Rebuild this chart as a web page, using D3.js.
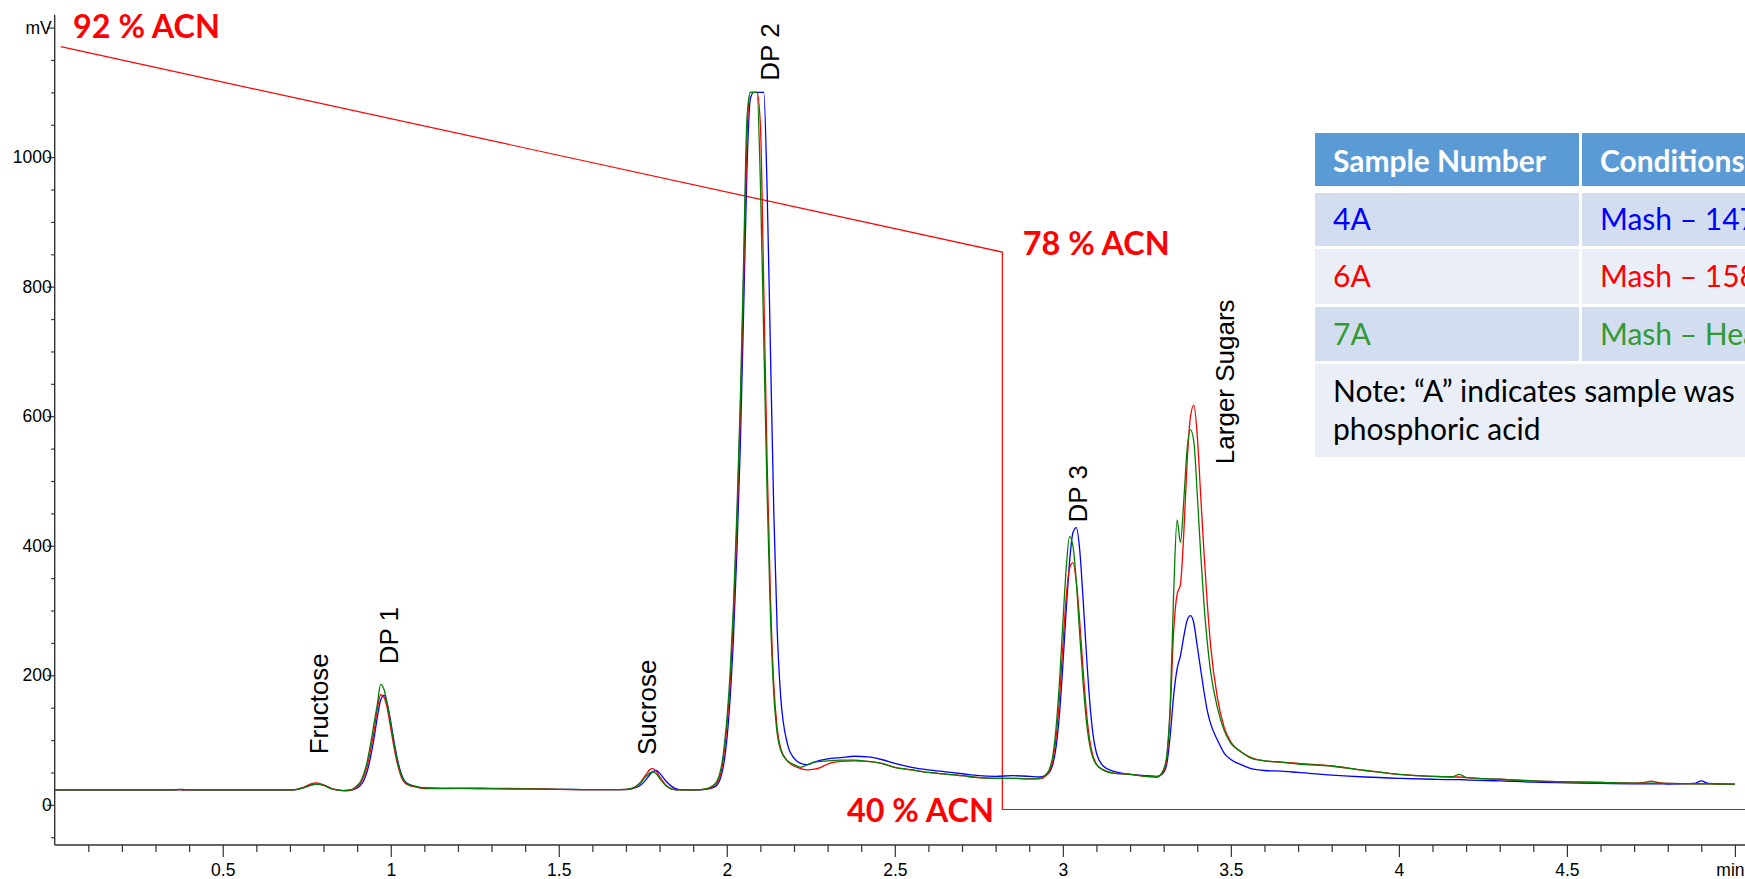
<!DOCTYPE html>
<html><head><meta charset="utf-8">
<script src="https://cdn.jsdelivr.net/npm/d3@7"></script>
<style>body{margin:0;background:#fff;overflow:hidden} svg{display:block}</style>
</head><body><svg id="c" width="1745" height="879"></svg>
<script>
// ---------- DATA ----------
const time = [
 0.00,0.10,0.20,0.30,0.35,0.37,0.39,0.42,0.50,0.60,0.70,
 0.72,0.74,0.76,0.78,0.80,0.82,0.84,0.86,0.88,
 0.90,0.91,0.92,0.93,0.94,0.95,0.96,0.97,0.98,0.99,1.00,1.01,1.02,1.03,1.04,1.05,1.07,1.10,
 1.15,1.20,1.30,1.40,1.50,1.60,1.66,
 1.70,1.72,1.74,1.76,1.77,1.78,1.79,1.80,1.82,1.84,1.86,1.90,1.93,
 1.95,1.97,1.99,2.01,2.02,2.03,2.04,2.05,2.06,2.07,2.08,2.09,2.10,2.11,2.12,2.13,2.14,2.15,2.16,2.18,2.20,2.22,2.24,2.26,2.28,2.30,
 2.34,2.38,2.42,2.46,2.50,2.55,2.60,2.65,2.70,2.75,2.80,2.85,2.90,2.93,
 2.95,2.96,2.97,2.98,2.99,3.00,3.01,3.02,3.03,3.04,3.05,3.06,3.07,3.08,3.09,3.10,3.12,3.15,
 3.20,3.25,3.28,3.30,3.31,3.32,3.33,3.34,3.35,3.36,3.37,3.38,3.39,3.40,3.41,3.42,3.43,3.44,3.46,3.48,3.50,3.53,3.56,3.60,3.65,3.70,
 3.80,3.90,4.00,4.10,4.16,4.18,4.20,4.30,4.40,4.50,4.60,4.70,4.73,4.75,4.77,4.80,4.88,4.90,4.92,5.00
];
const sample4A = [
 23,23,23,23,23,23.5,23,23,23,23,23,
 23.5,26,30,32,30.5,26,23,22,22.5,
 26,30,38,52,74,102,135,162,169,155,128,97,70,50,38,33,29,26,
 25.5,25.5,25,24.5,24,23.5,23.5,
 23.5,25,29,39,46,51,53,49,36,27,23.5,23,23.5,
 25,30,60,165,260,390,550,760,980,1090,1100,1100,1100,1100,950,700,450,270,170,95,72,64,62,66,69,71,
 73,75,74,70,64,58,54,51,48,45,44,45,44,43,
 46,50,62,90,140,215,300,375,420,428,395,320,235,160,108,80,60,52,
 47,45,44,50,65,110,170,210,230,260,285,292,280,245,210,175,145,125,100,80,70,62,56,53,52,50,
 46,43,41,39.5,39,39,38.5,37,35,34,33,32.5,32.5,32.5,32.5,32,33,37,33,31.5
];
const sample6A = [
 23,23,23,23,23,23.5,23,23,23,23,23,
 24,27,32,34,31,26,23,22,22.5,
 28,33,44,60,85,113,148,170,166,148,118,88,63,45,35,31,28,25,
 25,25.5,25.5,25,24,23.5,23.5,
 24,26,33,47,54,56,52,44,30,24,23,23,24,
 26,33,72,190,292,430,600,810,1030,1100,1100,1100,1050,800,530,320,185,118,88,68,60,56,54,55,58,63,
 67,68,67,64,58,54,50,47.5,45,42,41,41,40,40,
 45,52,68,105,165,245,320,365,374,345,285,210,145,100,75,63,54,49,
 47,44,43,52,75,150,270,325,340,420,530,600,617,570,480,390,310,245,165,120,97,82,73,68,66,64,
 60,53,47,44,43,43,42,39.5,37,35.5,34.5,33.5,34.5,36.5,34.5,33,32.5,32.5,32.5,32
];
const sample7A = [
 23,23,23,23,23,24,23.5,23,23,23,23,
 24,26.5,30,32,30,25.5,23,22,23,
 30,36,48,67,94,125,155,186,178,155,125,94,67,48,37,32,29,26,
 25.5,25.5,25,24.5,24,23.5,23.5,
 24,26,32,44,49,51,48,41,29,24,23,23,24,
 27,36,80,205,310,450,620,840,1060,1100,1100,1100,960,720,480,290,170,110,85,68,62,58,62,66,67,68,
 69,69,67,64,58,54,50,47.5,45,42,41,41,40,41,
 47,55,75,120,190,280,365,414,400,345,265,190,130,92,72,62,54,49,
 47,44,43,55,80,160,330,440,405,470,550,579,560,480,390,310,250,205,150,115,95,82,72,68,66,63,
 60,53,47,44,43.5,47,42.5,39.5,37,35.5,34.5,33.5,33.5,33.5,33.5,33,32.5,32.5,32.5,32
];
// solvent gradient (% ACN)
const gradTime = [0.018, 2.82, 2.82, 5.03];
const gradACN  = [92, 78, 40, 40];
const acnLabels = ['92 % ACN', '78 % ACN', '40 % ACN'];
// peak annotations: name, time (min), mV at text start
const peakNames = ['Fructose', 'DP 1', 'Sucrose', 'DP 2', 'DP 3', 'Larger Sugars'];
const peakTimes = [0.787, 0.995, 1.762, 2.128, 3.046, 3.483];
const peakLevels = [78, 217, 77, 1118, 436, 526];
// axis ticks
const xMajor = [0.5, 1, 1.5, 2, 2.5, 3, 3.5, 4, 4.5, 5];
const xMajorLabels = ['0.5', '1', '1.5', '2', '2.5', '3', '3.5', '4', '4.5', 'min'];
const yMajor = [0, 200, 400, 600, 800, 1000, 1200];
const yMajorLabels = ['0', '200', '400', '600', '800', '1000', 'mV'];
// table
const tableHeader = ['Sample Number', 'Conditions'];
const sampleIds = ['4A', '6A', '7A'];
const conditions = ['Mash – 147', 'Mash – 158', 'Mash – Hea'];
const noteLines = ['Note: “A” indicates sample was', 'phosphoric acid'];

// ---------- DRAW ----------
const svg = d3.select('#c');
const W = 1745, H = 879;
const x = d3.scaleLinear().domain([0, 5.03]).range([54.7, 1745]);
const y = d3.scaleLinear().domain([-62, 1200]).range([845, 27.6]);
const yACN = d3.scaleLinear().domain([40, 92]).range([809.5, 46.7]);
const axisColor = '#333';
const axisFont = 'Liberation Sans, Arial, sans-serif';

// gradient line
const gradPts = gradTime.map((t, i) => ({t, v: gradACN[i]}));
svg.append('path').datum(gradPts)
  .attr('d', d3.line().x(d => x(d.t)).y(d => yACN(d.v)))
  .attr('fill', 'none').attr('stroke', '#ff0000').attr('stroke-width', 1.2);

// x axis
const gx = svg.append('g').attr('transform', `translate(0,${y(-62)})`);
gx.call(d3.axisBottom(x).tickValues(d3.range(1, 51).map(i => i / 10).filter(v => Math.abs(v * 2 - Math.round(v * 2)) > 1e-6))
  .tickSize(7).tickSizeOuter(0).tickFormat(''));
gx.call(g => g.select('.domain').remove());
const gx2 = svg.append('g').attr('transform', `translate(0,${y(-62)})`);
gx2.call(d3.axisBottom(x).tickValues(xMajor).tickSize(12).tickSizeOuter(0)
  .tickFormat((d, i) => xMajorLabels[i]).tickPadding(6));
gx2.select('.domain').remove();
gx2.selectAll('text').attr('font-family', axisFont).attr('font-size', 17.5).attr('fill', '#000').attr('dy', '0.75em');
gx2.selectAll('.tick text').filter((d, i) => xMajorLabels[i] === 'min').attr('x', -5);
svg.selectAll('.tick line').attr('stroke', axisColor).attr('stroke-width', 1.2);
svg.append('line').attr('x1', x(0)).attr('x2', W).attr('y1', y(-62)).attr('y2', y(-62))
  .attr('stroke', axisColor).attr('stroke-width', 1.4);

// y axis
const gy = svg.append('g').attr('transform', `translate(${x(0)},0)`);
gy.call(d3.axisLeft(y).tickValues(d3.range(-50, 1201, 50).filter(v => v % 200 !== 0))
  .tickSize(3.5).tickSizeOuter(0).tickFormat(''));
gy.select('.domain').remove();
const gy2 = svg.append('g').attr('transform', `translate(${x(0)},0)`);
gy2.call(d3.axisLeft(y).tickValues(yMajor).tickSize(7.5).tickSizeOuter(0)
  .tickFormat((d, i) => yMajorLabels[i]).tickPadding(-4.5));
gy2.select('.domain').remove();
gy2.selectAll('text').attr('font-family', axisFont).attr('font-size', 17.5).attr('fill', '#000');
svg.selectAll('.tick line').attr('stroke', axisColor).attr('stroke-width', 1.2);
svg.append('line').attr('x1', x(0)).attr('x2', x(0)).attr('y1', y(1220)).attr('y2', y(-62))
  .attr('stroke', axisColor).attr('stroke-width', 1.4);

// chromatogram traces
const line = d3.line().x(d => x(d.t)).y(d => y(d.v)).curve(d3.curveMonotoneX);
const series = [
  {vals: sample4A, color: '#0000ff'},
  {vals: sample6A, color: '#ff0000'},
  {vals: sample7A, color: '#008000'}
];
series.forEach(s => {
  svg.append('path').datum(time.map((t, i) => ({t, v: s.vals[i]})))
    .attr('d', line).attr('fill', 'none').attr('stroke', s.color)
    .attr('stroke-width', 1.3).attr('stroke-linejoin', 'round');
});

// peak labels
peakNames.forEach((name, i) => {
  svg.append('text')
    .attr('transform', `translate(${x(peakTimes[i])},${y(peakLevels[i])}) rotate(-90)`)
    .attr('dy', '0.35em')
    .attr('font-family', axisFont).attr('font-size', 26).attr('fill', '#000')
    .text(name);
});

// fit helper
function fitWidth(node, target) {
  const w = node.getComputedTextLength();
  const fs = parseFloat(node.getAttribute('font-size'));
  node.setAttribute('font-size', fs * target / w);
  return fs * target / w;
}

// ACN labels
const acnPos = [
  {x: x(gradTime[0]) + 12.3, y: yACN(92) - 8.5, anchor: 'start'},
  {x: x(gradTime[1]) + 20.5, y: yACN(78) + 2.5, anchor: 'start'},
  {x: x(gradTime[1]) - 8.5, y: yACN(40) + 12.5, anchor: 'end'}
];
acnLabels.forEach((txt, i) => {
  const t = svg.append('text').attr('x', acnPos[i].x).attr('y', acnPos[i].y)
    .attr('text-anchor', acnPos[i].anchor)
    .attr('font-family', 'Lato, sans-serif').attr('font-weight', 700)
    .attr('font-size', 36).attr('fill', '#ff0000').text(txt);
  fitWidth(t.node(), 147);
});

// table
const tFont = 'Lato, sans-serif';
const tb = svg.append('g');
const c1 = 1315, c1r = 1579, c2 = 1582, cr = 1760;
const hdrTop = 133, hdrBot = 186;
const rowTops = [193, 249, 307], rowBots = [246, 304, 361];
const noteTop = 364, noteBot = 457;
tb.append('rect').attr('x', c1).attr('y', hdrTop).attr('width', c1r - c1).attr('height', hdrBot - hdrTop).attr('fill', '#5b9bd5');
tb.append('rect').attr('x', c2).attr('y', hdrTop).attr('width', cr - c2).attr('height', hdrBot - hdrTop).attr('fill', '#5b9bd5');
const rowFill = ['#d2deef', '#eaeff7', '#d2deef'];
const rowColor = ['#0000ff', '#ff0000', '#339933'];
sampleIds.forEach((id, i) => {
  tb.append('rect').attr('x', c1).attr('y', rowTops[i]).attr('width', c1r - c1).attr('height', rowBots[i] - rowTops[i]).attr('fill', rowFill[i]);
  tb.append('rect').attr('x', c2).attr('y', rowTops[i]).attr('width', cr - c2).attr('height', rowBots[i] - rowTops[i]).attr('fill', rowFill[i]);
});
tb.append('rect').attr('x', c1).attr('y', noteTop).attr('width', cr - c1).attr('height', noteBot - noteTop).attr('fill', '#eaeff7');

const h1 = tb.append('text').attr('x', 1333).attr('y', 171.5).attr('font-family', tFont).attr('font-weight', 700)
  .attr('font-size', 30).attr('fill', '#fff').text(tableHeader[0]);
const hfs = fitWidth(h1.node(), 213);
tb.append('text').attr('x', 1600).attr('y', 171.5).attr('font-family', tFont).attr('font-weight', 700)
  .attr('font-size', hfs).attr('fill', '#fff').text(tableHeader[1]);

const n1 = tb.append('text').attr('x', 1333).attr('y', 401.5).attr('font-family', tFont)
  .attr('font-size', 30).attr('fill', '#000').text(noteLines[0]);
const rfs = fitWidth(n1.node(), 402);
tb.append('text').attr('x', 1333).attr('y', 440).attr('font-family', tFont)
  .attr('font-size', rfs).attr('fill', '#000').text(noteLines[1]);
const rowBase = [230, 286.5, 345];
sampleIds.forEach((id, i) => {
  tb.append('text').attr('x', 1333).attr('y', rowBase[i]).attr('font-family', tFont)
    .attr('font-size', rfs).attr('fill', rowColor[i]).text(id);
  tb.append('text').attr('x', 1600).attr('y', rowBase[i]).attr('font-family', tFont)
    .attr('font-size', rfs).attr('fill', rowColor[i]).text(conditions[i]);
});
</script></body></html>
